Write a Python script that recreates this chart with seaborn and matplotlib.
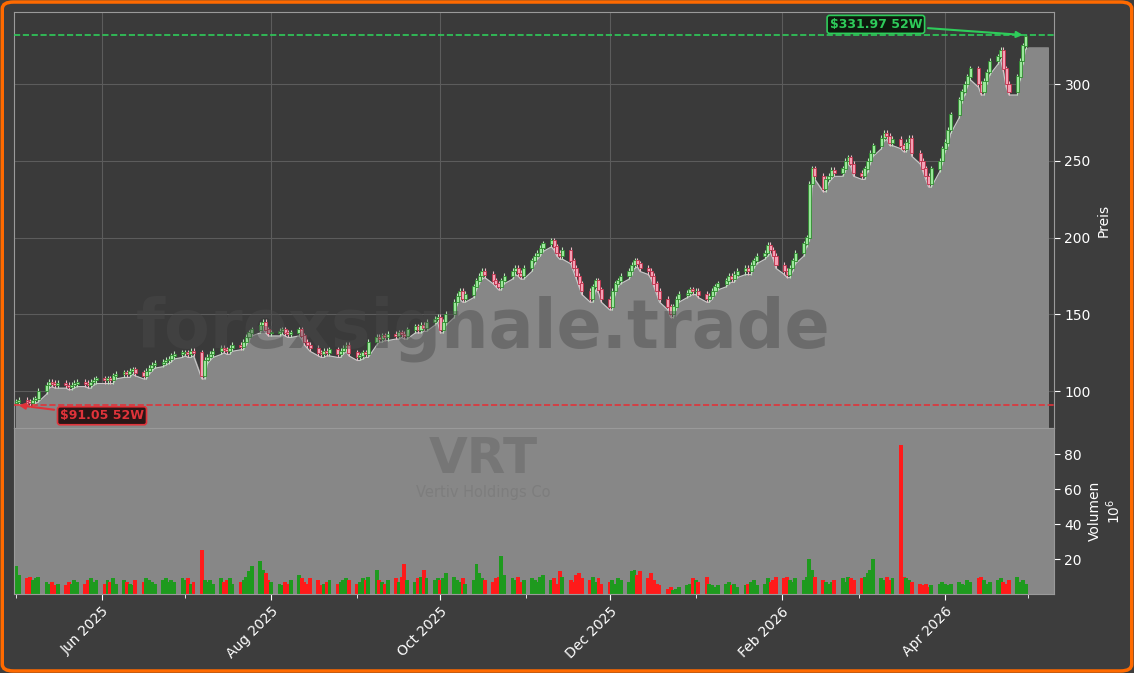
import numpy as np
import pandas as pd
import matplotlib
matplotlib.use("Agg")
import matplotlib.pyplot as plt
import matplotlib.dates as mdates
from matplotlib.patches import FancyBboxPatch
import seaborn as sns

closes = [93,94,93,92,94,95,100,104,106,105,104,105,104,103,104,105,106,105,104,106,107,108,
 107,108,107,110,111,112,111,113,114,112,110,113,115,117,118,119,120,121,123,124,125,
 125,124,126,125,110,120,122,124,126,128,127,126,128,130,129,132,135,138,140,143,145,140,138,
 138,139,140,138,137,138,140,136,132,130,128,125,124,126,125,127,124,126,128,130,125,
 122,123,125,124,132,135,134,136,135,137,136,138,137,136,140,142,140,143,141,145,147,148,
 140,145,150,158,162,165,160,163,168,172,175,178,176,172,170,168,172,175,178,180,177,175,180,
 185,188,190,193,196,198,194,190,188,192,185,180,175,170,165,160,168,172,166,160,
 155,165,170,172,175,178,182,185,183,180,178,175,170,165,160,155,150,155,160,163,164,166,165,
 165,163,160,162,165,168,170,172,175,173,176,178,180,178,182,185,188,190,195,192,188,182,
 178,176,180,185,190,196,200,235,245,240,232,238,240,244,242,245,250,252,248,242,
 240,245,250,255,260,265,268,266,262,264,260,258,262,265,255,250,245,240,235,245,250,258,
 262,270,280,290,295,300,305,310,300,295,302,308,315,318,322,310,300,295,305,315,325,331]

volumes = [16,11,9,10,8,9,10,7,6,7,5,6,5,7,6,8,7,6,8,9,7,8,
 6,8,7,9,6,8,7,6,5,8,7,9,8,7,6,8,9,7,8,7,9,
 8,9,6,7,25,8,7,8,6,9,7,8,9,6,7,8,10,13,16,19,14,12,8,
 7,6,5,7,6,8,11,9,7,6,9,8,5,6,7,8,6,7,8,9,8,
 6,7,9,8,10,14,8,7,6,8,9,7,10,17,8,7,9,10,14,9,8,9,
 8,9,12,10,8,7,9,6,8,17,12,9,8,7,9,10,22,11,9,8,10,7,8,
 9,8,7,10,11,8,9,6,13,10,8,7,11,12,9,8,10,7,9,6,
 7,8,6,9,8,7,13,14,11,13,9,12,8,6,5,3,4,2,3,4,5,6,9,
 8,7,10,6,5,4,5,6,7,5,6,4,5,6,7,8,5,6,9,7,8,10,
 9,10,8,7,9,8,10,20,14,10,8,7,6,7,8,9,7,10,9,8,
 9,10,12,14,20,9,8,10,8,9,85,10,9,8,7,6,5,6,4,5,6,7,
 6,5,6,7,6,5,8,7,9,10,8,6,7,8,9,7,6,8,10,7,8,6]

first_open = 92.5
LOW52 = 91.05
HIGH52 = 331.97
ticker = "VRT"
company = "Vertiv Holdings Co"

n = min(len(closes), len(volumes))
closes = np.array(closes[:n], float)
volumes = np.array(volumes[:n], float)
dates = pd.bdate_range("2025-05-01", periods=n)
opens = np.concatenate([[first_open], closes[:-1]])
highs = np.maximum(opens, closes) + 2.0
lows = np.minimum(opens, closes) - 2.0
lows[0] = LOW52
highs[-1] = HIGH52
up = closes >= opens

sns.set_style("dark")
BG = "#3d3d3d"
plt.rcParams["font.family"] = ["DejaVu Sans"]
fig = plt.figure(figsize=(11.34, 6.73), dpi=100, facecolor=BG)
ax = fig.add_axes([0.0123, 0.364, 0.9172, 0.618])
axv = fig.add_axes([0.0123, 0.1174, 0.9172, 0.2466], sharex=ax)

ax.set_facecolor("#3a3a3a")
axv.set_facecolor("#878787")
for a in (ax, axv):
    for s in a.spines.values():
        s.set_color("#9a9a9a")
        s.set_linewidth(0.8)

df = pd.DataFrame({"date": dates, "low": lows})
ext_dates = list(dates) + [dates[-1] + pd.Timedelta(days=1), pd.Timestamp("2026-05-08")]
ext_lows = list(lows) + [324, 324]
ax.fill_between(ext_dates, ext_lows, 0, color="#878787", zorder=1)
sns.lineplot(data=df, x="date", y="low", ax=ax, color="#c8c8c8", lw=0.8, zorder=2)

ax.vlines(dates, lows, highs, color=np.where(up, "#b9e6b9", "#f0b9c6"), lw=0.8, zorder=3)
ax.bar(dates, np.abs(closes - opens) + 0.3, bottom=np.minimum(opens, closes), width=1.1,
       color=np.where(up, "#9be89b", "#f5a0b5"), edgecolor=np.where(up, "#2e8b2e", "#c0304a"),
       linewidth=0.6, zorder=4)

ax.axhline(HIGH52, color="#2ecc5a", ls="--", lw=1.2, zorder=5)
ax.axhline(LOW52, color="#e0333a", ls="--", lw=1.2, zorder=5)

ax.annotate(f"${HIGH52:.2f} 52W", xy=(dates[-1], HIGH52), xytext=(pd.Timestamp("2026-03-07"), 339),
            color="#2ecc5a", fontsize=9, fontweight="bold", ha="center", va="center",
            bbox=dict(boxstyle="round,pad=0.2", fc="#0d1a0d", ec="#2ecc5a", lw=1.2),
            arrowprops=dict(arrowstyle="-|>", color="#2ecc5a", lw=1.5), zorder=6)
ax.annotate(f"${LOW52:.2f} 52W", xy=(dates[0], LOW52), xytext=(pd.Timestamp("2025-06-01"), 84),
            color="#e0333a", fontsize=9, fontweight="bold", ha="center", va="center",
            bbox=dict(boxstyle="round,pad=0.2", fc="#2a1616", ec="#e0333a", lw=1.2),
            arrowprops=dict(arrowstyle="-|>", color="#e0333a", lw=1.5), zorder=6)

ax.set_ylim(76, 347)
ax.set_xlim(pd.Timestamp("2025-04-30 06:00"), pd.Timestamp("2026-05-10 06:00"))
ax.yaxis.tick_right()
ax.yaxis.set_label_position("right")
ax.set_ylabel("Preis", color="white", fontsize=10)
ax.set_xlabel("")
ax.grid(True, color="#5c5c5c", lw=0.8)
ax.tick_params(axis="y", colors="white", labelsize=10, length=4, left=False, right=True)
ax.tick_params(axis="x", labelbottom=False, bottom=False)

axv.bar(dates, volumes, width=1.4, color=np.where(up, "#1e9a1e", "#ff1a1a"), edgecolor="none",
        linewidth=0, zorder=2)
axv.set_ylim(0, 95)
axv.yaxis.tick_right()
axv.yaxis.set_label_position("right")
axv.set_ylabel("Volumen\n$10^6$", color="white", fontsize=10)
axv.set_yticks([20, 40, 60, 80])
axv.tick_params(axis="y", colors="white", labelsize=10, length=4, left=False, right=True)
axv.tick_params(axis="x", colors="white", labelsize=10, length=4, bottom=True)
axv.xaxis.set_major_locator(mdates.MonthLocator(bymonth=[2, 4, 6, 8, 10, 12]))
axv.xaxis.set_minor_locator(mdates.MonthLocator())
axv.xaxis.set_major_formatter(mdates.DateFormatter("%b %Y"))
axv.tick_params(axis="x", which="minor", colors="white", length=3, bottom=True)
plt.setp(axv.get_xticklabels(), rotation=45, ha="right", rotation_mode="anchor")
axv.grid(False)

fig.text(0.426, 0.512, "forexsignale.trade", fontsize=48, fontweight="bold", color="#4a4a4a",
         alpha=0.45, ha="center", va="center")
fig.text(0.426, 0.318, ticker, fontsize=36, fontweight="bold", color="#727272", alpha=0.8,
         ha="center", va="center")
fig.text(0.426, 0.268, company, fontsize=10.5, color="#7c7c7c", alpha=0.9, ha="center", va="center")

fig.patches.append(FancyBboxPatch((0.002, 0.003), 0.996, 0.994, boxstyle="round,pad=0,rounding_size=0.01",
                                  transform=fig.transFigure, fill=False, ec="#ff6a00", lw=2.5))
fig.savefig("out.png", dpi=100, facecolor=BG)
